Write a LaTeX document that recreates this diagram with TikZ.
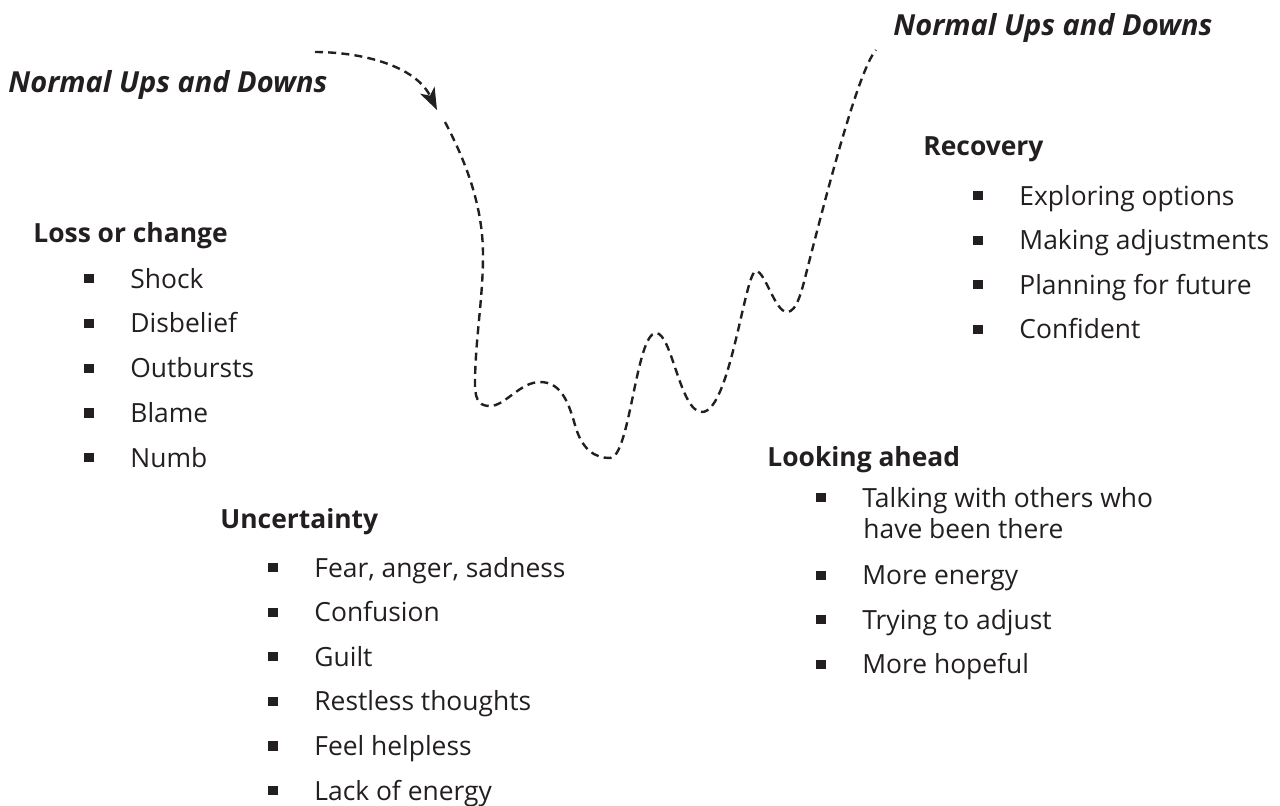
\documentclass[tikz,border=0pt]{standalone}
\usepackage{fontspec}
\setmainfont{Open Sans}
\usetikzlibrary{arrows.meta}
\definecolor{ink}{HTML}{231F20}
\newcommand{\sqbullet}{\makebox[23pt][l]{\rule[2.4pt]{4.6pt}{4.6pt}}}
\tikzset{
  head/.style={anchor=base west, inner sep=0pt, text=ink, font=\fontsize{13.2}{16}\selectfont\bfseries},
  item/.style={anchor=base west, inner sep=0pt, text=ink, font=\fontsize{13.2}{16}\selectfont},
  phase/.style={anchor=base west, inner sep=0pt, text=ink, font=\fontsize{14.5}{17}\selectfont\bfseries\itshape},
  mood/.style={draw=ink, line width=1.2pt, dash pattern=on 4pt off 2.6pt},
}
\begin{document}
\begin{tikzpicture}[x=0.5pt,y=-0.5pt]
	\useasboundingbox (0,0) rectangle (1280,805);
	\coordinate (A0) at (315,52);
	\coordinate (A1) at (437,110);
	\coordinate (S) at (445,122);
	\coordinate (E) at (876,50);
	% the way down and back up
	\draw[mood, -{Stealth[length=11pt,width=8pt,inset=3pt]}] (A0) .. controls (360,52) and (415,65) .. (A1);
	\draw[mood] (S) .. controls (465,160) and (483,205) .. (483,255)
		.. controls (483,300) and (475,340) .. (475,385)
		.. controls (475,403) and (482,406) .. (490,406)
		.. controls (505,406) and (520,382) .. (540,382)
		.. controls (560,382) and (568,400) .. (575,425)
		.. controls (582,450) and (595,458) .. (610,458)
		.. controls (630,458) and (636,333) .. (656,333)
		.. controls (672,333) and (680,412) .. (702,412)
		.. controls (730,412) and (745,271) .. (756,271)
		.. controls (765,271) and (775,312) .. (787,312)
		.. controls (797,312) and (802,290) .. (807,270)
		.. controls (825,200) and (858,70) .. (E);
	\node[phase] (upsL) at (8,92) {Normal Ups and Downs};
	\node[phase] (upsR) at (893,35) {Normal Ups and Downs};
	% loss or change
	\node[head] (loss) at (33,242) {Loss or change};
	\foreach \t [count=\i from 0] in {Shock, Disbelief, Outbursts, Blame, Numb}
		\node[item] (loss\i) at (84,288+44.8*\i) {\sqbullet\t};
	% uncertainty
	\node[head] (unc) at (220,528) {Uncertainty};
	\foreach \t [count=\i from 0] in {{Fear, anger, sadness}, Confusion, Guilt, Restless thoughts, Feel helpless, Lack of energy}
		\node[item] (unc\i) at (268,577+44.6*\i) {\sqbullet\t};
	% looking ahead
	\node[head] (look) at (767,466) {Looking ahead};
	\node[item] (look0) at (816,507) {\sqbullet Talking with others who};
	\node[item] (look0b) at (863,538) {have been there};
	\foreach \t [count=\i from 1] in {More energy, Trying to adjust, More hopeful}
		\node[item] (look\i) at (816,540+44.5*\i) {\sqbullet\t};
	% recovery
	\node[head] (rec) at (923,155) {Recovery};
	\foreach \t [count=\i from 0] in {Exploring options, Making adjustments, Planning for future, Confident}
		\node[item] (rec\i) at (973,205+44.5*\i) {\sqbullet\t};
\end{tikzpicture}
\end{document}
